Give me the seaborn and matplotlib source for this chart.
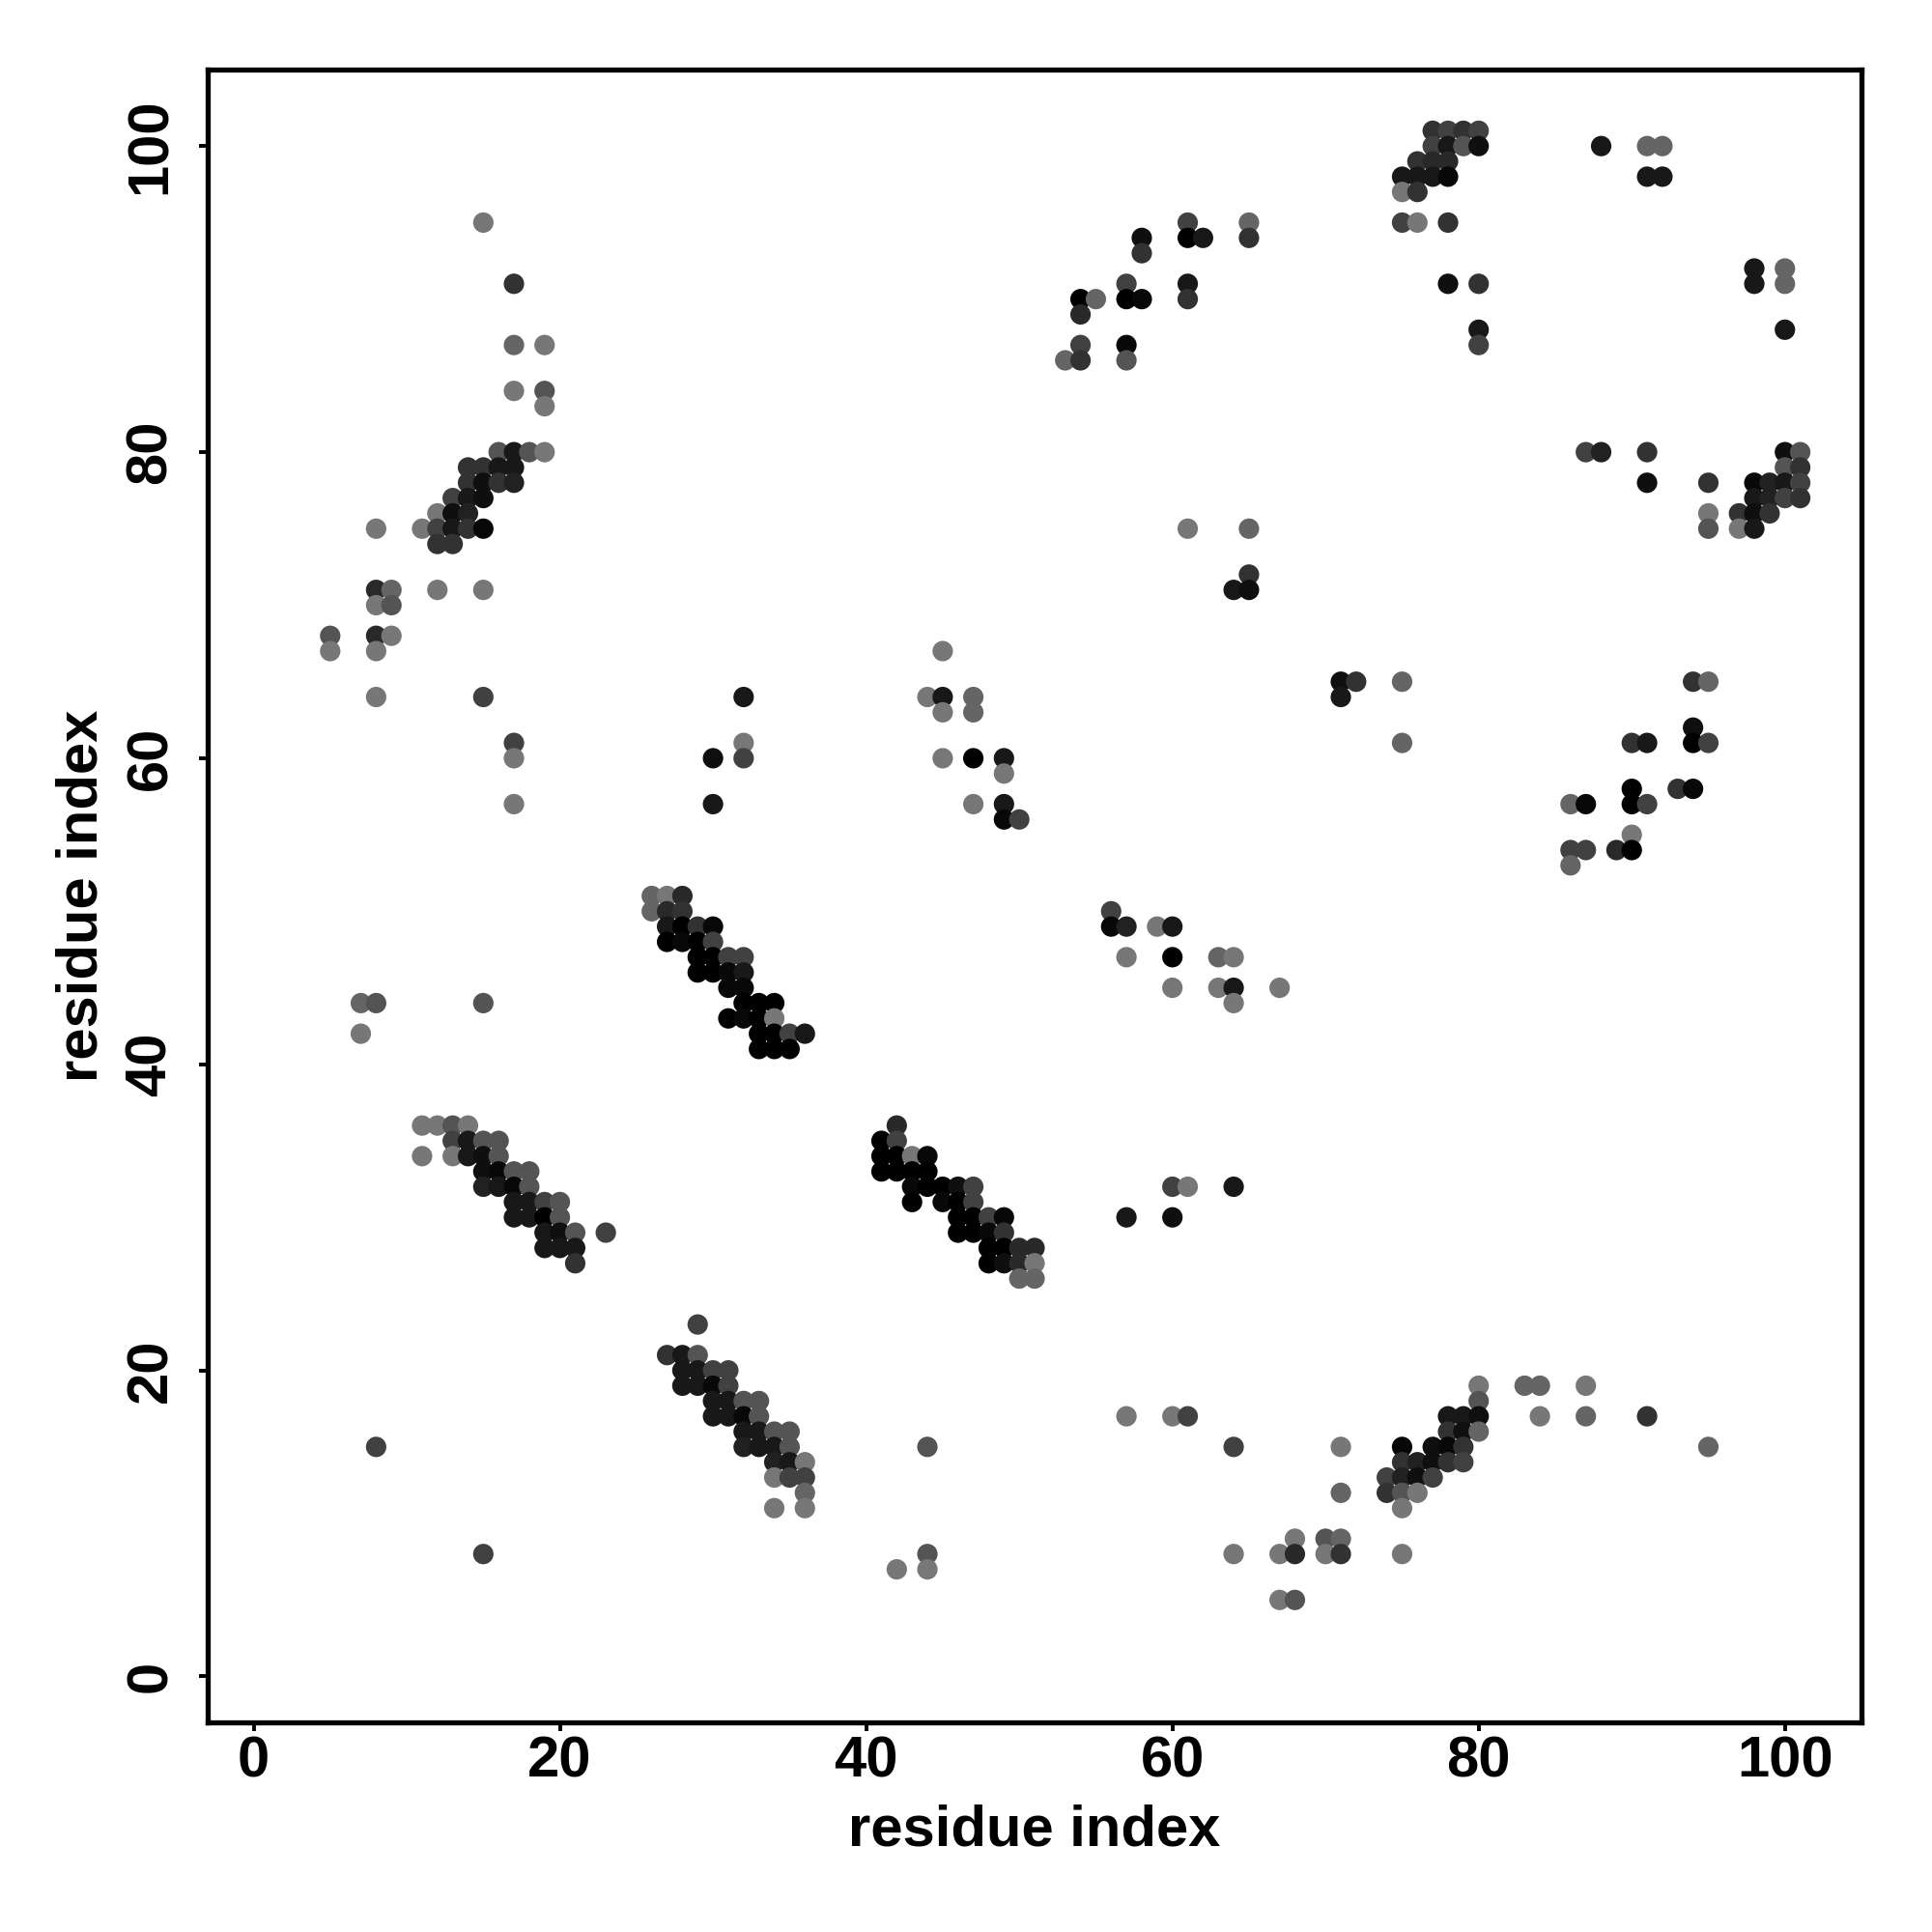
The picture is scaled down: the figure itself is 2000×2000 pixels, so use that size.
import matplotlib
matplotlib.use("Agg")
import matplotlib.pyplot as plt
from matplotlib.colors import LinearSegmentedColormap
import pandas as pd
import seaborn as sns

sns.set_theme(style="white")
plt.rcParams["font.family"] = ["Liberation Sans", "DejaVu Sans"]
plt.rcParams["font.weight"] = "bold"
plt.rcParams["text.color"] = "black"
plt.rcParams["axes.labelcolor"] = "black"
plt.rcParams["xtick.color"] = "black"
plt.rcParams["ytick.color"] = "black"

# predicted contacts: residue i, residue j, contact probability (darker = higher)
res_i = [
    15, 17, 17, 19, 17, 19, 19,
    16, 17, 18, 19, 14, 15, 16, 17, 14, 15, 16, 17,
    13, 14, 15, 12, 13, 14, 8, 11, 12, 13, 14, 15, 12, 13,
    8, 9, 12, 15, 8, 9,
    5, 5, 8, 9, 8, 8, 15, 32, 17, 17, 17, 32, 32, 30, 30,
    26, 27, 28, 26, 27, 28, 27, 28, 29, 30, 27, 28, 29, 30,
    29, 30, 31, 32, 29, 30, 31, 32, 31, 32,
    7, 8, 15, 32, 33, 34, 31, 32, 33, 34,
    7, 33, 34, 35, 36, 33, 34, 35,
    11, 12, 13, 14, 13, 14, 15, 16, 11, 13, 14, 15, 16,
    15, 16, 17, 18, 15, 16, 17, 18,
    17, 18, 19, 20, 17, 18, 19, 20,
    19, 20, 21, 23, 19, 20, 21, 21,
    29, 27, 28, 29, 28, 29, 30, 31, 28, 29, 30, 31,
    30, 31, 32, 33, 30, 31, 32, 33, 32, 33, 34, 35,
    8, 32, 33, 34, 35, 34, 35, 36, 34, 35, 36, 36, 34, 36, 15,
    42, 41, 42, 41, 42, 43, 44, 41, 42, 43, 44,
    43, 44, 45, 46, 47, 43, 45, 46, 47,
    46, 47, 48, 49, 46, 47, 48, 49,
    48, 49, 50, 51, 48, 49, 50, 51, 50, 51,
    60, 61, 64, 57, 60, 57, 60, 61, 44, 64,
    44, 42, 44, 68, 64, 67, 68, 67, 68,
    45, 44, 45, 47, 45, 47, 45, 47, 49, 49, 47, 49, 49, 50,
    56, 56, 57, 59, 60, 57, 60, 63, 64, 60, 63, 64, 67, 64,
    61, 65, 58, 61, 62, 65, 58, 57, 61,
    54, 55, 57, 58, 61, 54, 54, 57, 53, 54, 57,
    61, 65, 65, 64, 65,
    77, 78, 79, 80, 77, 78, 79, 80, 88, 91, 92,
    76, 77, 78, 75, 76, 77, 78, 91, 92, 75, 76,
    75, 76, 78, 98, 100, 78, 80, 98, 100, 80, 100, 80,
    87, 88, 91, 100, 101, 100, 101,
    91, 95, 98, 99, 100, 101, 98, 99, 100, 101,
    95, 97, 98, 99, 95, 97, 98,
    71, 72, 75, 94, 95, 71, 94, 75, 90, 91, 94, 95,
    90, 93, 94, 86, 87, 90, 91, 90, 86, 87, 89, 90, 86,
    80, 83, 84, 87, 80, 78, 79, 80, 84, 87, 91, 78, 79, 80,
    71, 75, 77, 78, 79, 95, 75, 76, 77, 78, 79,
    74, 75, 76, 77, 71, 74, 75, 76, 75, 70, 71, 70, 71, 75,
]
res_j = [
    95, 91, 87, 87, 84, 84, 83,
    80, 80, 80, 80, 79, 79, 79, 79, 78, 78, 78, 78,
    77, 77, 77, 76, 76, 76, 75, 75, 75, 75, 75, 75, 74, 74,
    71, 71, 71, 71, 70, 70,
    68, 67, 68, 68, 67, 64, 64, 64, 61, 60, 57, 61, 60, 60, 57,
    51, 51, 51, 50, 50, 50, 49, 49, 49, 49, 48, 48, 48, 48,
    47, 47, 47, 47, 46, 46, 46, 46, 45, 45,
    44, 44, 44, 44, 44, 44, 43, 43, 43, 43,
    42, 42, 42, 42, 42, 41, 41, 41,
    36, 36, 36, 36, 35, 35, 35, 35, 34, 34, 34, 34, 34,
    33, 33, 33, 33, 32, 32, 32, 32,
    31, 31, 31, 31, 30, 30, 30, 30,
    29, 29, 29, 29, 28, 28, 28, 27,
    23, 21, 21, 21, 20, 20, 20, 20, 19, 19, 19, 19,
    18, 18, 18, 18, 17, 17, 17, 17, 16, 16, 16, 16,
    15, 15, 15, 15, 15, 14, 14, 14, 13, 13, 13, 12, 11, 11, 8,
    36, 35, 35, 34, 34, 34, 34, 33, 33, 33, 33,
    32, 32, 32, 32, 32, 31, 31, 31, 31,
    30, 30, 30, 30, 29, 29, 29, 29,
    28, 28, 28, 28, 27, 27, 27, 27, 26, 26,
    32, 32, 32, 30, 30, 17, 17, 17, 15, 15,
    8, 7, 7, 9, 8, 8, 8, 5, 5,
    67, 64, 64, 64, 63, 63, 60, 60, 60, 59, 57, 57, 56, 56,
    50, 49, 49, 49, 49, 47, 47, 47, 47, 45, 45, 45, 45, 44,
    95, 95, 94, 94, 94, 94, 93, 91, 91,
    90, 90, 90, 90, 90, 89, 87, 87, 86, 86, 86,
    75, 75, 72, 71, 71,
    101, 101, 101, 101, 100, 100, 100, 100, 100, 100, 100,
    99, 99, 99, 98, 98, 98, 98, 98, 98, 97, 97,
    95, 95, 95, 92, 92, 91, 91, 91, 91, 88, 88, 87,
    80, 80, 80, 80, 80, 79, 79,
    78, 78, 78, 78, 78, 78, 77, 77, 77, 77,
    76, 76, 76, 76, 75, 75, 75,
    65, 65, 65, 65, 65, 64, 62, 61, 61, 61, 61, 61,
    58, 58, 58, 57, 57, 57, 57, 55, 54, 54, 54, 54, 53,
    19, 19, 19, 19, 18, 17, 17, 17, 17, 17, 17, 16, 16, 16,
    15, 15, 15, 15, 15, 15, 14, 14, 14, 14, 14,
    13, 13, 13, 13, 12, 12, 12, 12, 11, 9, 9, 8, 8, 8,
]
prob = [
    0, .58, .15, 0, 0, .3, 0,
    .3, .8, .3, 0, .58, .58, .8, .8, .58, .87, .58, .72,
    .45, .8, .87, 0, .87, .72, 0, 0, .45, .8, .58, .93, .58, .58,
    .66, .15, 0, 0, 0, .3,
    .3, 0, .66, 0, 0, 0, .45, .8, .45, 0, 0, 0, .45, .87, .8,
    .15, 0, .66, .15, .66, .58, .8, 1, .58, .93, 1, .93, 1, .45,
    1, 1, .45, .45, 1, 1, .93, .8, .93, .93,
    .15, .3, .3, 1, 1, 1, 1, .93, 1, 0,
    0, 1, 1, .45, .8, 1, 1, 1,
    0, 0, .3, 0, .45, .8, .3, .3, 0, 0, .8, .87, .3,
    .87, .93, .3, .3, .72, .8, .93, .3,
    .8, .8, .45, .3, .8, .8, 1, .3,
    .8, .87, .3, .45, .8, .8, .8, .58,
    .45, .58, .8, .3, .8, .8, .45, .45, .8, .8, .93, .45,
    .8, .8, .3, .3, .8, .8, .93, .3, .8, .8, .3, .3,
    .45, .72, .8, .8, .3, .72, .8, 0, 0, .45, .45, .15, 0, 0, .45,
    .66, 1, .45, 1, 1, 0, .93, 1, 1, 1, 1,
    .93, 1, 1, .87, .45, 1, .93, 1, .45,
    1, 1, .45, .93, 1, 1, .93, .58,
    1, 1, .66, .66, 1, .87, .66, 0, .15, .15,
    .45, 0, .8, .8, .87, 0, 0, .45, .3, .45,
    .3, 0, 0, 0, 0, 0, .66, 0, .3,
    0, 0, .8, .15, 0, .15, 0, 1, .8, 0, 0, .8, .93, .45,
    .45, .93, .72, 0, .8, 0, 1, .15, 0, 0, 0, .8, 0, 0,
    .45, .15, .87, 1, .8, .58, .58, .45, .8,
    1, .15, 1, .93, .58, .66, .45, .93, .15, .58, .3,
    0, .15, .58, .8, .87,
    .58, .45, .58, .45, .45, .8, .3, .87, .8, .15, .15,
    .58, .66, .66, .8, .8, .8, .93, .8, .8, 0, .58,
    .45, 0, .58, .8, .15, .87, .58, .8, .15, .8, .8, .45,
    .45, .72, .58, .87, .3, .3, .58,
    .87, .58, .93, .72, .8, .45, .8, .72, .45, .58,
    0, .58, .87, .58, .3, 0, .8,
    .87, .58, .15, .58, .15, .8, .87, .15, .58, .8, 1, .45,
    1, .58, .93, .15, .93, 1, .45, 0, .45, .45, .66, 1, .15,
    0, .15, .15, 0, .3, .8, .8, .87, 0, .15, .58, .58, .87, .15,
    0, .93, .87, .93, .58, .15, .58, .72, .87, .58, .45,
    .45, .72, .87, .45, .15, .58, .3, 0, 0, .3, .15, 0, .58, 0,
]
ticks = [0, 20, 40, 60, 80, 100]

assert len(res_i) == len(res_j) == len(prob)
df = pd.DataFrame({"i": res_i, "j": res_j, "prob": prob})

greys = LinearSegmentedColormap.from_list("greys", ["#777777", "#000000"])

fig, ax = plt.subplots(figsize=(10, 10), dpi=200)
fig.subplots_adjust(left=0.1075, right=0.9635, bottom=0.1085, top=0.964)

sns.scatterplot(
    data=df,
    x="i",
    y="j",
    hue="prob",
    palette=greys,
    hue_norm=(0, 1),
    s=58,
    linewidth=0,
    legend=False,
    ax=ax,
)

ax.set_xlim(-3, 105)
ax.set_ylim(-3, 105)
ax.set_xticks(ticks)
ax.set_yticks(ticks)
ax.set_xticklabels([str(t) for t in ticks], fontsize=21.5, fontweight="bold")
ax.set_yticklabels([str(t) for t in ticks], fontsize=21.5, fontweight="bold",
                   rotation=90, va="center")
ax.tick_params(axis="both", direction="out", length=3.2, width=1.4, color="black",
               labelcolor="black", bottom=True, left=True)
ax.tick_params(axis="x", pad=1.5)
ax.tick_params(axis="y", pad=8)

ax.set_xlabel("residue index", fontsize=21.5, fontweight="bold", labelpad=6, color="black")
ax.set_ylabel("residue index", fontsize=21.5, fontweight="bold", labelpad=6, color="black")

for sp in ax.spines.values():
    sp.set_visible(True)
    sp.set_color("black")
    sp.set_linewidth(1.9)

fig.savefig("out.png", dpi=200, facecolor="white")
